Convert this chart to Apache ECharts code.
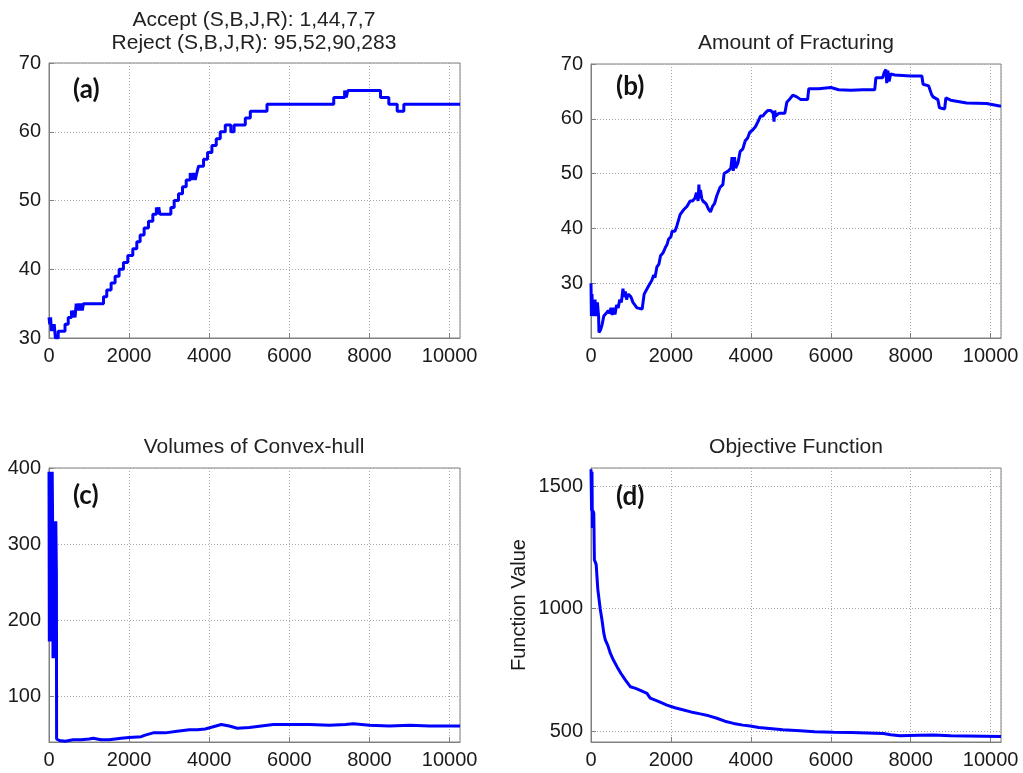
<!DOCTYPE html>
<html><head><meta charset="utf-8">
<script src="https://cdn.jsdelivr.net/npm/echarts@6/dist/echarts.min.js"></script>
<style>html,body{margin:0;padding:0;background:#fff}#c{width:1023px;height:773px}</style>
</head><body><div id="c"></div><script>
// ---- data ----
const titleA = 'Accept (S,B,J,R): 1,44,7,7\nReject (S,B,J,R): 95,52,90,283';
const titleB = 'Amount of Fracturing';
const titleC = 'Volumes of Convex-hull';
const titleD = 'Objective Function';
const panelLabels = ['(a)', '(b)', '(c)', '(d)'];
const yNameD = 'Function Value';

// (a) staircase: iteration where value starts, value
const aX = [0,20,40,60,80,100,130,160,230,400,480,560,590,620,650,680,710,740,770,800,830,860,
  1360,1442,1550,1650,1750,1858,1967,2092,2192,2275,2375,2483,2592,2680,2720,2740,2770,
  3042,3125,3233,3333,3425,3525,3567,3608,3650,3690,3733,3858,3958,4067,4175,4275,4400,4540,4620,
  4900,5025,5442,7108,7380,7420,7460,8275,8483,8692,8858,10260];
const aY = [33,32,33,31,32,31,32,30,31,32,33,34,33,34,33,35,34,35,34,35,34,35,
  36,37,38,39,40,41,42,43,44,45,46,47,48,49,48,49,48,
  49,50,51,52,53,54,53,54,53,54,55,56,57,58,59,60,61,60,61,
  62,63,64,65,66,65,66,65,64,63,64,64];

// (b) amount of fracturing
const bX = [0,10,25,40,60,80,100,130,160,190,200,240,280,320,380,430,470,500,530,560,600,640,680,720,760,800,830,860,890,930,1000,1050,1150,1280,1310,1330,1440,1520,1570,1600,1650,1700,1740,1800,1860,1900,1940,2000,2030,2100,2150,2230,2280,2330,2400,2480,2540,2600,2640,2680,2700,2720,2740,2770,2800,2880,2940,2990,3040,3090,3150,3230,3300,3330,3440,3500,3530,3560,3590,3620,3660,3680,3730,3800,3860,3920,3970,4050,4110,4180,4240,4300,4350,4420,4500,4560,4580,4600,4620,4700,4850,4900,4960,5050,5150,5250,5420,5450,5700,6000,6200,6500,6800,7100,7130,7300,7340,7380,7400,7430,7460,7500,7600,8000,8280,8310,8450,8520,8560,8680,8720,8850,8880,9000,9400,9900,10260];
const bY = [30,24,28,24,27,24,27,24,26.5,24,21,21.5,22.5,24,24.5,25,24.5,25.5,24.2,25.5,24.3,26,25.5,27,26.5,29,27.5,28.5,27,28,27.5,26.5,25.5,25.3,25.5,28,29.5,30.5,31.5,31,33,33.5,35,35.5,36.5,37,38,38.5,39.5,39.5,40.5,42.5,43,43.5,44,45,45,45.5,46.5,45,48,45.5,47,45.5,45,44.5,43.5,43,44,44.5,46,47.5,48,50,50.5,51,53,50.5,53,51,51,52,54,54.5,56,56.5,57.5,58,58.5,59.5,60.5,60.5,61,61.5,61.5,61,59.5,61.5,60.5,61,61,63,63.5,64.3,64,63.5,63.5,65.5,65.5,65.7,65.3,65.2,65.3,65.3,67.5,67.5,68.5,69,66.5,68.8,66.8,68.2,68,67.8,67.8,66.3,66,64.5,64,63.5,62,61.8,63.8,63.4,62.9,62.8,62.3];

// (c) volumes of convex hull
const cX = [0,8,16,24,32,40,48,56,64,72,80,90,100,110,120,130,140,150,160,170,185,190,260,400,600,800,1000,1100,1300,1500,1800,2000,2300,2400,2600,2900,3200,3500,3700,3900,4100,4300,4500,4700,5000,5300,5600,6000,6500,7000,7400,7600,8000,8500,9000,9500,10260];
const cY = [395,172,395,172,395,172,395,172,395,172,395,330,150,330,170,330,180,330,150,330,260,44,42,41,43,43,44,45,43,43,45,46,47,49,52,52,54,56,56,57,60,63,61,58,59,61,63,63,63,62,63,64,62,61,62,61,61];

// (d) objective function
const dX = [0,15,25,35,50,70,85,130,170,230,275,320,358,420,483,560,650,750,858,983,1100,1250,1400,1483,1700,1900,2100,2317,2500,2733,2950,3150,3350,3567,3800,3983,4200,4400,4800,5233,5600,6067,6500,6900,7317,7500,7733,8200,8567,9000,9400,10260];
const dY = [1570,1400,1560,1330,1400,1390,1200,1180,1080,1000,954,900,872,850,818,790,763,735,709,681,675,665,654,634,620,606,595,586,578,570,562,552,540,531,524,520,514,511,505,501,497,495,494,492,490,485,481,483,484,481,480,477];

const xTicks = {min: 0, max: 10260, interval: 2000};

function zip(xs, ys) { return xs.map((x, i) => [x, ys[i]]); }

const FONT = '"Liberation Sans", Arial, sans-serif';
const AX = '#808080';
const plain = v => String(v);
function xAxis(i) {
  return {type: 'value', gridIndex: i, min: xTicks.min, max: xTicks.max, interval: xTicks.interval,
    axisLine: {show: true, onZero: false, lineStyle: {color: AX, width: 1}},
    axisTick: {show: true, inside: true, length: 5, lineStyle: {color: AX}},
    axisLabel: {fontSize: 20, color: '#1a1a1a', fontFamily: FONT, margin: 8, showMaxLabel: false, formatter: plain},
    splitLine: {show: true, lineStyle: {color: '#a8a8a8', type: [1, 2], width: 1}}};
}
function yAxis(i, extra) {
  return Object.assign({type: 'value', gridIndex: i,
    axisLine: {show: true, onZero: false, lineStyle: {color: AX, width: 1}},
    axisTick: {show: true, inside: true, length: 5, lineStyle: {color: AX}},
    axisLabel: Object.assign({fontSize: 20, color: '#1a1a1a', fontFamily: FONT, margin: 8, formatter: plain}, extra.label || {}),
    splitLine: {show: true, lineStyle: {color: '#a8a8a8', type: [1, 2], width: 1}}}, extra.axis);
}
function series(i, data, step) {
  return {type: 'line', xAxisIndex: i, yAxisIndex: i, data: data, step: step || false,
    showSymbol: false, symbol: 'none', lineStyle: {color: '#0000ff', width: 3}, itemStyle: {color: '#0000ff'},
    silent: true, animation: false};
}
const gridBase = {show: true, borderColor: AX, borderWidth: 1, backgroundColor: '#fff', containLabel: false};
const titleStyle = {fontSize: 21, fontWeight: 'normal', color: '#222', fontFamily: FONT, lineHeight: 23};

const chart = echarts.init(document.getElementById('c'), null, {renderer: 'canvas'});
chart.setOption({
  backgroundColor: '#fff',
  animation: false,
  title: [
    {text: titleA, left: 254, top: 9, textAlign: 'center', textStyle: titleStyle, padding: 0},
    {text: titleB, left: 796, top: 32, textAlign: 'center', textStyle: titleStyle, padding: 0},
    {text: titleC, left: 254, top: 436, textAlign: 'center', textStyle: titleStyle, padding: 0},
    {text: titleD, left: 796, top: 436, textAlign: 'center', textStyle: titleStyle, padding: 0}
  ],
  grid: [
    Object.assign({left: 49, top: 63, width: 411, height: 275}, gridBase),
    Object.assign({left: 591, top: 64, width: 410, height: 274}, gridBase),
    Object.assign({left: 49, top: 468, width: 411, height: 274}, gridBase),
    Object.assign({left: 591, top: 468, width: 410, height: 274}, gridBase)
  ],
  xAxis: [xAxis(0), xAxis(1), xAxis(2), xAxis(3)],
  yAxis: [
    yAxis(0, {axis: {min: 30, max: 70, interval: 10}}),
    yAxis(1, {axis: {min: 20, max: 70, interval: 10}, label: {showMinLabel: false}}),
    yAxis(2, {axis: {min: 40, max: 400, splitNumber: 4}, label: {showMinLabel: false}}),
    yAxis(3, {axis: {min: 455, max: 1575, splitNumber: 2, name: yNameD, nameLocation: 'middle', nameGap: 62,
      nameTextStyle: {fontSize: 20, color: '#1a1a1a', fontFamily: FONT}},
      label: {showMinLabel: false, showMaxLabel: false}})
  ],
  series: [
    series(0, zip(aX, aY), 'end'),
    series(1, zip(bX, bY)),
    series(2, zip(cX, cY)),
    series(3, zip(dX, dY))
  ],
  graphic: [
    {type: 'text', x: 73, y: 90, style: {text: panelLabels[0], font: 'bold 26px Lato, "Open Sans", sans-serif', fill: '#111', textVerticalAlign: 'middle'}},
    {type: 'text', x: 616, y: 87, style: {text: panelLabels[1], font: 'bold 26px Lato, "Open Sans", sans-serif', fill: '#111', textVerticalAlign: 'middle'}},
    {type: 'text', x: 73, y: 496, style: {text: panelLabels[2], font: 'bold 26px Lato, "Open Sans", sans-serif', fill: '#111', textVerticalAlign: 'middle'}},
    {type: 'text', x: 616, y: 497, style: {text: panelLabels[3], font: 'bold 26px Lato, "Open Sans", sans-serif', fill: '#111', textVerticalAlign: 'middle'}}
  ]
});
</script></body></html>
